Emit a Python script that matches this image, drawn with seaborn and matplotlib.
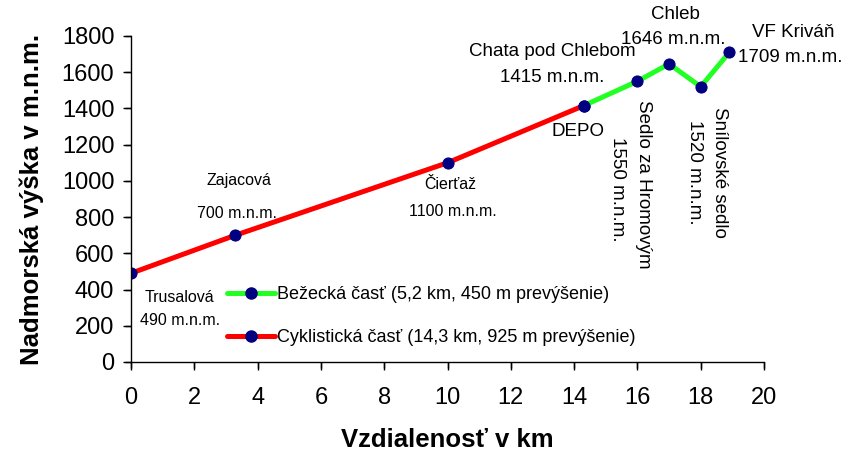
import matplotlib
matplotlib.use("Agg")
import matplotlib.pyplot as plt
import seaborn as sns
import pandas as pd
from matplotlib.lines import Line2D

# Data
dist_bike = [0, 3.3, 10.0, 14.3]
elev_bike = [490, 700, 1100, 1415]
dist_run = [14.3, 16.0, 17.0, 18.0, 18.9]
elev_run = [1415, 1550, 1646, 1520, 1709]
label_run = "Bežecká časť (5,2 km, 450 m prevýšenie)"
label_bike = "Cyklistická časť (14,3 km, 925 m prevýšenie)"
xticks = list(range(0, 21, 2))
yticks = list(range(0, 1801, 200))

sns.set_style("ticks")
plt.rcParams['font.family'] = ['Liberation Sans', 'DejaVu Sans']
plt.rcParams['text.color'] = 'black'
plt.rcParams['axes.labelcolor'] = 'black'
plt.rcParams['xtick.color'] = 'black'
plt.rcParams['ytick.color'] = 'black'
FAM = ['Liberation Sans', 'DejaVu Sans']

fig = plt.figure(figsize=(8.47, 4.58), dpi=100)
ax = fig.add_axes([131/847, 1-362/458, (764-131)/847, (362-36)/458])

df_bike = pd.DataFrame({"x": dist_bike, "y": elev_bike})
df_run = pd.DataFrame({"x": dist_run, "y": elev_run})
mk = dict(marker="o", markersize=8, markerfacecolor="#000080", markeredgecolor="#000080")
sns.lineplot(data=df_bike, x="x", y="y", ax=ax, color="#FF0000", linewidth=3.6, sort=False, **mk)
sns.lineplot(data=df_run, x="x", y="y", ax=ax, color="#22FF22", linewidth=3.6, sort=False, **mk)

ax.set_xlim(0, 20)
ax.set_ylim(0, 1800)
ax.set_xticks(xticks)
ax.set_yticks(yticks)
ax.tick_params(axis='both', which='major', direction='out', length=6, width=1,
               color='black', labelcolor='black', labelsize=17, bottom=True, left=True)
ax.tick_params(axis='x', pad=12)
ax.tick_params(axis='y', pad=6)
# explicit tick marks (same positions as the axis ticks)
ax.vlines(xticks, -6/326, 0, transform=ax.get_xaxis_transform(), colors='black',
          linewidth=1, clip_on=False)
ax.hlines(yticks, -6/633, 0, transform=ax.get_yaxis_transform(), colors='black',
          linewidth=1, clip_on=False)
for s in ['top', 'right']:
    ax.spines[s].set_visible(False)
for s in ['left', 'bottom']:
    ax.spines[s].set_color('black')
    ax.spines[s].set_linewidth(1)

ax.set_xlabel("Vzdialenosť v km", fontsize=18.5, fontweight='bold', labelpad=14)
ax.set_ylabel("Nadmorská výška v m.n.m.", fontsize=18.5, fontweight='bold', labelpad=13)

def ann(txt, xy, dx, dy, size=13.5, rot=0, ha='center', va='center'):
    ax.annotate(txt, xy=xy, xytext=(dx, dy), textcoords='offset pixels',
                ha=ha, va=va, rotation=rot, fontsize=size, family=FAM,
                color='black', annotation_clip=False)

pts = list(zip(dist_bike, elev_bike)) + list(zip(dist_run, elev_run))[1:]
ann("Trusalová", pts[0], 48, -24, size=11.5)
ann("490 m.n.m.", pts[0], 49, -47, size=11.5)
ann("Zajacová", pts[1], 3, 55, size=11.5)
ann("700 m.n.m.", pts[1], 2, 22, size=11.5)
ann("Čierťaž", pts[2], 3, -22, size=11.5)
ann("1100 m.n.m.", pts[2], 5, -49, size=11.5)
ann("DEPO", pts[3], -6, -26)
ann("Chata pod Chlebom", pts[3], -31, 54)
ann("1415 m.n.m.", pts[3], -31, 28)
ann("Sedlo za Hromovým", pts[4], 6, -19, rot=270, va='top')
ann("1550 m.n.m.", pts[4], -20, -56, rot=270, va='top')
ann("Chleb", pts[5], 6, 49)
ann("1646 m.n.m.", pts[5], 4, 24)
ann("Snílovské sedlo", pts[6], 19, -20, rot=270, va='top')
ann("1520 m.n.m.", pts[6], -6, -33, rot=270, va='top')
ann("VF Kriváň", pts[7], 64, 20)
ann("1709 m.n.m.", pts[7], 61, -5)

handles = [
    Line2D([], [], color="#22FF22", linewidth=3.6, **mk),
    Line2D([], [], color="#FF0000", linewidth=3.6, **mk),
]
leg = ax.legend(handles, [label_run, label_bike], loc='upper left',
                bbox_to_anchor=((220-131)/633, 1-(279-36)/326), frameon=False,
                prop={'family': FAM, 'size': 13}, handlelength=2.65,
                handletextpad=0.1, labelspacing=1.45, borderaxespad=0)
for t in leg.get_texts():
    t.set_color('black')

fig.savefig("out.png", dpi=100)
